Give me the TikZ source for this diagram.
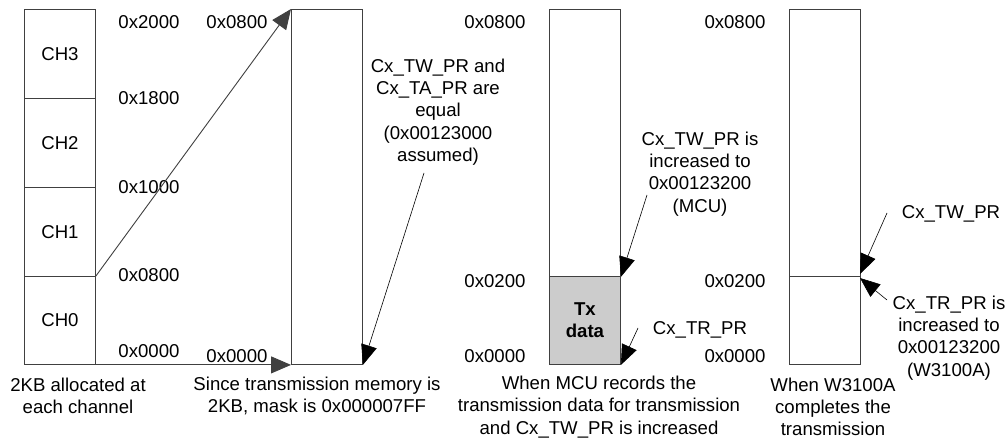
\documentclass[tikz,border=0pt]{standalone}
\usepackage{fontspec}
\setmainfont{Liberation Sans}
\usetikzlibrary{arrows.meta}
\begin{document}
\begin{tikzpicture}[x=1pt,y=-1pt,
  every node/.style={font=\fontsize{18.6}{22.2}\selectfont, inner sep=0pt},
  cell/.style={draw=black!75, line width=0.9pt, minimum width=71pt, anchor=north west},
  lbl/.style={align=center},
  ptr/.style={line width=0.6pt, -{Triangle[length=20pt,width=16pt]}},
  conn/.style={draw=black!75, line width=0.9pt, -{Triangle[length=20pt,width=17pt]}}]
\useasboundingbox (0,0) rectangle (1008,441);
\fill[white] (0,0) rectangle (1008,441);
% left block
\node[cell, minimum height=89pt] (ch3) at (24,9) {CH3};
\node[cell, minimum height=89pt] (ch2) at (24,98) {CH2};
\node[cell, minimum height=89pt] (ch1) at (24,187) {CH1};
\node[cell, minimum height=88pt] (ch0) at (24,276) {CH0};
\node (a2000) at (149,22) {0x2000};
\node (a1800) at (149,98) {0x1800};
\node (a1000) at (149,187) {0x1000};
\node (a0800) at (149,275) {0x0800};
\node (a0000) at (149,351) {0x0000};
\node[lbl] (cap1) at (78,396) {2KB allocated at\\each channel};
% second block
\node[cell, minimum height=355pt] (mem2) at (291,9) {};
\node (b0800) at (237,22) {0x0800};
\node (b0000) at (237,356) {0x0000};
\draw[conn] (ch0.north east) -- (mem2.north west);
\draw[conn] (ch0.south east) -- (mem2.south west);
\node[lbl] (eq) at (438,112) {Cx\_TW\_PR and\\Cx\_TA\_PR are\\equal\\(0x00123000\\assumed)};
\coordinate (eqs) at (424,173);
\draw[ptr] (eqs) -- (mem2.south east);
\node[lbl] (cap2) at (317,396) {Since transmission memory is\\2KB, mask is 0x000007FF};
% third block
\node[cell, minimum height=267pt] (mem3t) at (549,9) {};
\node[cell, minimum height=88pt, fill=black!20, font=\fontsize{18.6}{22.2}\selectfont\bfseries, align=center] (mem3d) at (549,276) {Tx\\data};
\node (c0800) at (495,22) {0x0800};
\node (c0200) at (495,281) {0x0200};
\node (c0000) at (495,356) {0x0000};
\node[lbl] (mcu) at (700,174) {Cx\_TW\_PR is\\increased to\\0x00123200\\(MCU)};
\coordinate (mcus) at (647,195);
\draw[ptr] (mcus) -- (mem3t.south east);
\node (tr3) at (700,330) {Cx\_TR\_PR};
\coordinate (tr3s) at (638,328);
\draw[ptr] (tr3s) -- (mem3d.south east);
\node[lbl] (cap3) at (599,407) {When MCU records the\\transmission data for transmission\\and Cx\_TW\_PR is increased};
% fourth block
\node[cell, minimum height=267pt] (mem4t) at (789,9) {};
\node[cell, minimum height=88pt] (mem4b) at (789,276) {};
\node (d0800) at (735,22) {0x0800};
\node (d0200) at (735,281) {0x0200};
\node (d0000) at (735,356) {0x0000};
\node (tw4) at (951,214) {Cx\_TW\_PR};
\coordinate (tw4s) at (887,213);
\coordinate (tw4t) at (860,274);
\draw[ptr] (tw4s) -- (tw4t);
\node[lbl] (tr4) at (949,338) {Cx\_TR\_PR is\\increased to\\0x00123200\\(W3100A)};
\coordinate (tr4s) at (887,300);
\coordinate (tr4t) at (860,278);
\draw[ptr] (tr4s) -- (tr4t);
\node[lbl] (cap4) at (833,407) {When W3100A\\completes the\\transmission};
\end{tikzpicture}
\end{document}
